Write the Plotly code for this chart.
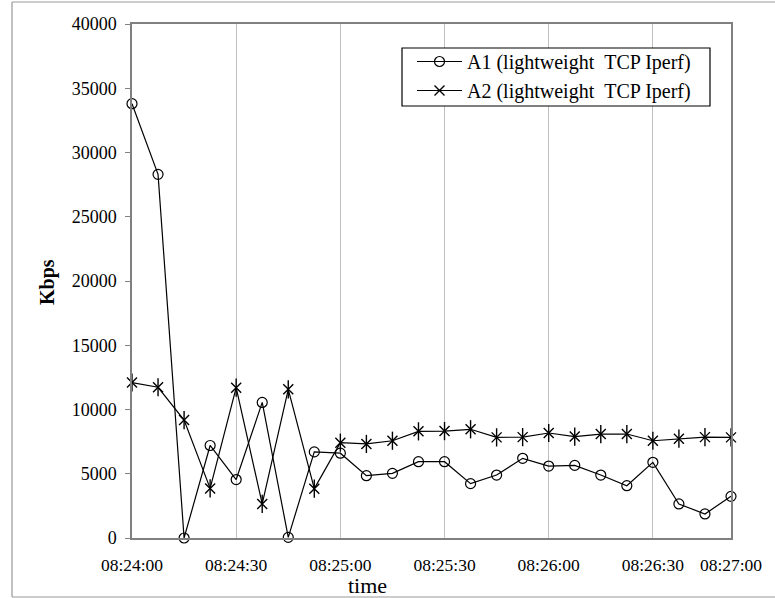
import plotly.graph_objects as go

times = ["08:24:00", "08:24:08", "08:24:15", "08:24:23", "08:24:30", "08:24:38",
         "08:24:45", "08:24:53", "08:25:00", "08:25:08", "08:25:15", "08:25:23",
         "08:25:30", "08:25:38", "08:25:45", "08:25:53", "08:26:00", "08:26:08",
         "08:26:15", "08:26:23", "08:26:30", "08:26:38", "08:26:45", "08:27:00"]
tick_labels = ["08:24:00", "08:24:30", "08:25:00", "08:25:30", "08:26:00", "08:26:30", "08:27:00"]

a1 = [33800, 28300, 0, 7200, 4550, 10550, 50, 6700, 6600, 4850, 5030, 5940,
      5940, 4230, 4900, 6200, 5600, 5650, 4900, 4070, 5890, 2650, 1870, 3240]
a2 = [12100, 11730, 9180, 3860, 11700, 2650, 11570, 3840, 7420, 7320, 7570, 8300,
      8320, 8460, 7830, 7850, 8170, 7890, 8090, 8090, 7570, 7730, 7850, 7830]

name_a1 = "A1 (lightweight \u00a0TCP Iperf)"
name_a2 = "A2 (lightweight \u00a0TCP Iperf)"

FONT = "Liberation Serif, Times New Roman, serif"

# pixel helpers for paper coordinates (plot area: x 132..731, y 24..538)
def px(x):
    return (x - 132) / 599

def py(y):
    return (538 - y) / 514

fig = go.Figure()
fig.add_trace(go.Scatter(
    x=times, y=a1, mode="lines+markers", name=name_a1, legendgroup="a1",
    line=dict(color="black", width=1.2),
    marker=dict(symbol="circle-open", size=10, color="black", line=dict(width=1.2)),
    cliponaxis=False,
))
fig.add_trace(go.Scatter(
    x=times, y=a2, mode="lines+markers", name=name_a2, legendgroup="a2",
    line=dict(color="black", width=1.2),
    marker=dict(symbol="x-thin-open", size=10, color="black", line=dict(width=1.4)),
    cliponaxis=False,
))
fig.add_trace(go.Scatter(
    x=times, y=a2, mode="markers", name=name_a2, legendgroup="a2", showlegend=False,
    marker=dict(symbol="line-ns-open", size=13, color="black", line=dict(width=1.4)),
    cliponaxis=False, hoverinfo="skip",
))

border = dict(color="#999999", width=1.2)

fig.update_layout(
    width=775, height=598,
    margin=dict(l=132, r=44, t=24, b=60),
    paper_bgcolor="white", plot_bgcolor="white",
    font=dict(family=FONT, size=18, color="black"),
    showlegend=True,
    legend=dict(
        x=px(412), y=py(42), xanchor="left", yanchor="top",
        borderwidth=0, bgcolor="rgba(0,0,0,0)",
        font=dict(family=FONT, size=20, color="black"),
        tracegroupgap=0, itemwidth=45,
    ),
    xaxis=dict(
        type="category", range=[0, len(times) - 1],
        tickmode="array", tickvals=tick_labels, ticktext=tick_labels,
        showgrid=True, gridcolor="#c0c0c0", gridwidth=1,
        showline=True, linecolor="#808080", linewidth=1.5, mirror=True,
        ticks="", ticklabelstandoff=10,
        tickfont=dict(family=FONT, size=17.5, color="black"),
    ),
    yaxis=dict(
        range=[0, 40000], dtick=5000, tickformat="d",
        showgrid=False, zeroline=False,
        showline=True, linecolor="#808080", linewidth=1.5, mirror=True,
        ticks="outside", ticklen=5, tickcolor="#808080", ticklabelstandoff=5,
        tickfont=dict(family=FONT, size=18, color="black"),
    ),
    annotations=[
        dict(text="time", xref="paper", yref="paper", x=px(367), y=py(585),
             xanchor="center", yanchor="middle", showarrow=False,
             font=dict(family=FONT, size=22, color="black")),
        dict(text="<b>Kbps</b>", xref="paper", yref="paper", x=px(47), y=py(282),
             xanchor="center", yanchor="middle", showarrow=False, textangle=-90,
             font=dict(family=FONT, size=20, color="black")),
    ],
    shapes=[
        # outer chart border (left, top, bottom)
        dict(type="line", xref="paper", yref="paper", x0=px(12), x1=px(12), y0=py(597), y1=py(2),
             line=border, layer="below"),
        dict(type="line", xref="paper", yref="paper", x0=px(12), x1=px(776), y0=py(2), y1=py(2),
             line=border, layer="below"),
        dict(type="line", xref="paper", yref="paper", x0=px(12), x1=px(776), y0=py(597), y1=py(597),
             line=border, layer="below"),
        # legend box
        dict(type="rect", xref="paper", yref="paper", x0=px(402), x1=px(710), y0=py(106), y1=py(48),
             line=dict(color="black", width=1.2), fillcolor="white", layer="above"),
    ],
)

fig.write_html(
    "out.html",
    config={"displayModeBar": False},
    post_script="document.body.style.margin='0';document.body.style.overflow='hidden';"
                "document.documentElement.style.overflow='hidden';",
)
